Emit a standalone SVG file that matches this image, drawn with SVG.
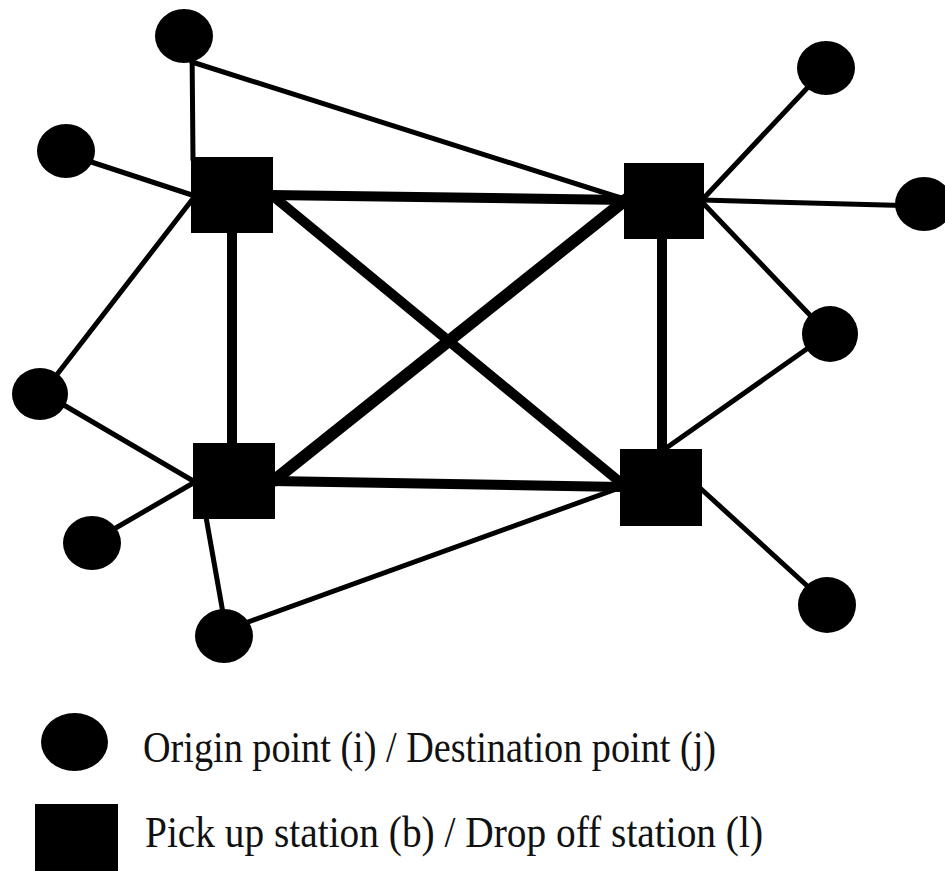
<svg xmlns="http://www.w3.org/2000/svg" width="945" height="871" viewBox="0 0 945 871">
  <style>
    .thin { stroke: #000; stroke-width: 5; fill: none; stroke-linecap: round; }
    .thick { stroke: #000; stroke-width: 10; fill: none; stroke-linecap: butt; }
    .pt { fill: #000; }
    .st { fill: #000; }
    .lbl { font-family: "Liberation Serif", "Times New Roman", serif; font-size: 44px; fill: #111; }
  </style>
  <rect width="945" height="871" fill="#fff"/>

  <!-- connectors -->
  <g id="connectors">
    <!-- access links: points to stations -->
    <line class="thin" x1="192" y1="45" x2="193" y2="160"/>
    <line class="thin" x1="192" y1="62" x2="624" y2="199"/>
    <line class="thin" x1="70" y1="155" x2="195" y2="196"/>
    <line class="thin" x1="45" y1="390" x2="195" y2="196"/>
    <line class="thin" x1="45" y1="394" x2="195" y2="482"/>
    <line class="thin" x1="95" y1="540" x2="195" y2="482"/>
    <line class="thin" x1="226" y1="630" x2="206" y2="517"/>
    <line class="thin" x1="226" y1="630" x2="622" y2="487"/>
    <line class="thin" x1="826" y1="68" x2="702" y2="200"/>
    <line class="thin" x1="922" y1="206" x2="702" y2="200"/>
    <line class="thin" x1="828" y1="334" x2="702" y2="202"/>
    <line class="thin" x1="828" y1="334" x2="662" y2="451"/>
    <line class="thin" x1="827" y1="604" x2="700" y2="488"/>
    <!-- trunk links between stations -->
    <line class="thick" x1="270" y1="195" x2="626" y2="200"/>
    <line class="thick" x1="232" y1="230" x2="232" y2="446"/>
    <line class="thick" x1="662" y1="236" x2="662" y2="452"/>
    <line class="thick" x1="272" y1="481" x2="622" y2="487"/>
    <line class="thick" x1="268" y1="192" x2="626" y2="487"/>
    <line class="thick" x1="272" y1="482" x2="628" y2="198" style="stroke-width:12"/>
  </g>

  <!-- stations -->
  <g id="station-tl"><rect class="st" x="191" y="157" width="82" height="76"/></g>
  <g id="station-tr"><rect class="st" x="624" y="163" width="80" height="76"/></g>
  <g id="station-bl"><rect class="st" x="193" y="443" width="82" height="76"/></g>
  <g id="station-br"><rect class="st" x="620" y="449" width="82" height="77"/></g>

  <!-- origin / destination points -->
  <g id="point-top"><ellipse class="pt" cx="184" cy="36" rx="29" ry="27"/></g>
  <g id="point-left-top"><ellipse class="pt" cx="66" cy="151" rx="29" ry="27"/></g>
  <g id="point-left"><ellipse class="pt" cx="40" cy="394" rx="28" ry="26"/></g>
  <g id="point-left-bottom"><ellipse class="pt" cx="92" cy="543" rx="29" ry="27"/></g>
  <g id="point-bottom"><ellipse class="pt" cx="224" cy="636" rx="29" ry="27"/></g>
  <g id="point-right-top"><ellipse class="pt" cx="826" cy="68" rx="29" ry="27"/></g>
  <g id="point-right"><ellipse class="pt" cx="924" cy="204" rx="29" ry="27"/></g>
  <g id="point-right-mid"><ellipse class="pt" cx="830" cy="334" rx="28" ry="28"/></g>
  <g id="point-right-bottom"><ellipse class="pt" cx="827" cy="605" rx="29" ry="28"/></g>

  <!-- legend -->
  <g id="legend">
    <ellipse class="pt" cx="74.5" cy="742" rx="33.5" ry="29"/>
    <rect class="st" x="35" y="804" width="83" height="67"/>
    <text class="lbl" x="143" y="762" textLength="573" lengthAdjust="spacingAndGlyphs">Origin point (i) / Destination point (j)</text>
    <text class="lbl" x="145" y="847" textLength="618" lengthAdjust="spacingAndGlyphs">Pick up station (b) / Drop off station (l)</text>
  </g>
</svg>
